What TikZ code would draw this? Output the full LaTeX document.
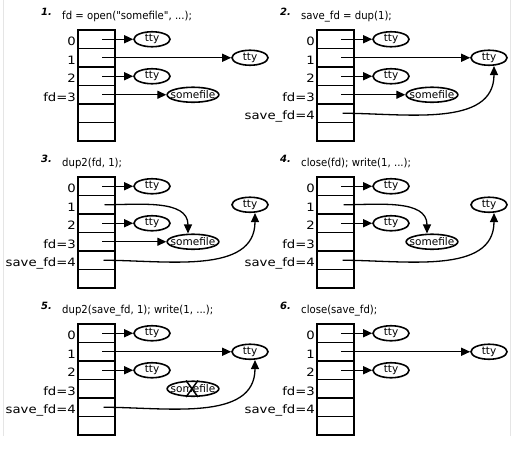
\documentclass[tikz,border=0pt]{standalone}
\usepackage{fontspec}
\setmainfont{DejaVu Sans}
\newfontfamily\lblfont[FakeStretch=1.15]{DejaVu Sans}
\newfontfamily\cmdfont[FakeStretch=0.92]{DejaVu Sans}
\usetikzlibrary{arrows.meta,shapes.geometric,positioning,calc}

% one descriptor table, 6 cells, named #1-0 ... #1-5
\newcommand{\fdtable}[3]{%
  \foreach \i in {0,...,5}
    \node[cell,anchor=north west] (#1-\i) at (#2,{#3+\i*18.5}) {};
  \node[lbl] (#1-l0) at ([shift={(-2pt,3pt)}]#1-0.south west) {0};
  \node[lbl] (#1-l1) at ([shift={(-2pt,3pt)}]#1-1.south west) {1};
  \node[lbl] (#1-l2) at ([shift={(-2pt,3pt)}]#1-2.south west) {2};
  \node[lbl] (#1-l3) at ([shift={(-2pt,3pt)}]#1-3.south west) {fd=3};
}

\begin{document}
\begin{tikzpicture}[x=1pt,y=-1pt,
  cell/.style={draw,line width=1.7pt,minimum width=37pt,minimum height=18.5pt,
               inner sep=0pt,outer sep=0pt},
  lbl/.style={anchor=base east,inner sep=0pt,font=\lblfont\fontsize{11.5}{13}\selectfont},
  num/.style={anchor=base east,inner sep=0pt,font=\bfseries\itshape\fontsize{10}{12}\selectfont},
  cmd/.style={anchor=base west,inner sep=0pt,font=\cmdfont\fontsize{11}{13}\selectfont},
  file/.style={draw,ellipse,line width=1.6pt,inner sep=0pt,minimum width=36pt,
               minimum height=15pt,font=\fontsize{10.5}{12}\selectfont},
  sfile/.style={file,inner xsep=-4pt,minimum width=51pt,minimum height=15pt},
  ptr/.style={-{Triangle[length=9pt,width=8pt]},line width=1.3pt}
]
\useasboundingbox (0,0) rectangle (516,463);
\draw[black!10] (3,0) -- (3,436);
\draw[black!10] (510,0) -- (510,436);

% 1
\node[num] (n1) at (52,15) {1.};
\node[cmd] (c1) at (62,19) {fd = open("somefile", ...);};
\fdtable{p1}{78}{30}
\node[file] (p1-t0) at (152,39.25) {tty};
\node[file] (p1-t2) at (152,76.25) {tty};
\node[file] (p1-tt) at (250,57.75) {tty};
\node[sfile] (p1-sf) at (193,94.75) {somefile};
\draw[ptr] ([xshift=5.5pt]p1-0.center) -- (p1-t0);
\draw[ptr] ([xshift=5.5pt]p1-1.center) -- (p1-tt);
\draw[ptr] ([xshift=5.5pt]p1-2.center) -- (p1-t2);
\draw[ptr] ([xshift=5.5pt]p1-3.center) -- (p1-sf);

% 2
\node[num] (n2) at (291,15) {2.};
\node[cmd] (c2) at (301,19) {save\_fd = dup(1);};
\fdtable{p2}{317}{30}
\node[lbl] (p2-l4) at ([shift={(-2pt,3pt)}]p2-4.south west) {save\_fd=4};
\node[file] (p2-t0) at (391,39.25) {tty};
\node[file] (p2-t2) at (391,76.25) {tty};
\node[file] (p2-tt) at (489,57.75) {tty};
\node[sfile] (p2-sf) at (432,94.75) {somefile};
\draw[ptr] ([xshift=5.5pt]p2-0.center) -- (p2-t0);
\draw[ptr] ([xshift=5.5pt]p2-1.center) -- (p2-tt);
\draw[ptr] ([xshift=5.5pt]p2-2.center) -- (p2-t2);
\draw[ptr] ([xshift=5.5pt]p2-3.center) -- (p2-sf);
\draw[ptr] ([xshift=7pt]p2-4.center) to[out=0,in=-90] ([xshift=5pt]p2-tt.south);

% 3
\node[num] (n3) at (52,162) {3.};
\node[cmd] (c3) at (62,166) {dup2(fd, 1);};
\fdtable{p3}{78}{177}
\node[lbl] (p3-l4) at ([shift={(-2pt,3pt)}]p3-4.south west) {save\_fd=4};
\node[file] (p3-t0) at (152,186.25) {tty};
\node[file] (p3-t2) at (152,223.25) {tty};
\node[file] (p3-tt) at (250,204.75) {tty};
\node[sfile] (p3-sf) at (193,241.75) {somefile};
\draw[ptr] ([xshift=5.5pt]p3-0.center) -- (p3-t0);
\draw[ptr] ([xshift=8pt]p3-1.center) to[out=0,in=90] ([xshift=-5pt]p3-sf.north);
\draw[ptr] ([xshift=5.5pt]p3-2.center) -- (p3-t2);
\draw[ptr] ([xshift=5.5pt]p3-3.center) -- (p3-sf);
\draw[ptr] ([xshift=7pt]p3-4.center) to[out=0,in=-90] ([xshift=5pt]p3-tt.south);

% 4
\node[num] (n4) at (291,162) {4.};
\node[cmd] (c4) at (301,166) {close(fd); write(1, ...);};
\fdtable{p4}{317}{177}
\node[lbl] (p4-l4) at ([shift={(-2pt,3pt)}]p4-4.south west) {save\_fd=4};
\node[file] (p4-t0) at (391,186.25) {tty};
\node[file] (p4-t2) at (391,223.25) {tty};
\node[file] (p4-tt) at (489,204.75) {tty};
\node[sfile] (p4-sf) at (432,241.75) {somefile};
\draw[ptr] ([xshift=5.5pt]p4-0.center) -- (p4-t0);
\draw[ptr] ([xshift=8pt]p4-1.center) to[out=0,in=90] ([xshift=-5pt]p4-sf.north);
\draw[ptr] ([xshift=5.5pt]p4-2.center) -- (p4-t2);
\draw[ptr] ([xshift=7pt]p4-4.center) to[out=0,in=-90] ([xshift=5pt]p4-tt.south);

% 5
\node[num] (n5) at (52,309) {5.};
\node[cmd] (c5) at (62,313) {dup2(save\_fd, 1); write(1, ...);};
\fdtable{p5}{78}{324}
\node[lbl] (p5-l4) at ([shift={(-2pt,3pt)}]p5-4.south west) {save\_fd=4};
\node[file] (p5-t0) at (152,333.25) {tty};
\node[file] (p5-t2) at (152,370.25) {tty};
\node[file] (p5-tt) at (250,351.75) {tty};
\node[sfile] (p5-sf) at (193,388.75) {somefile};
\draw[ptr] ([xshift=5.5pt]p5-0.center) -- (p5-t0);
\draw[ptr] ([xshift=5.5pt]p5-1.center) -- (p5-tt);
\draw[ptr] ([xshift=5.5pt]p5-2.center) -- (p5-t2);
\draw[ptr] ([xshift=7pt]p5-4.center) to[out=0,in=-90] ([xshift=5pt]p5-tt.south);
\draw[line width=1.5pt] ([xshift=-7pt]p5-sf.north) -- ([xshift=5pt]p5-sf.south);
\draw[line width=1.5pt] ([xshift=5pt]p5-sf.north) -- ([xshift=-7pt]p5-sf.south);

% 6
\node[num] (n6) at (291,309) {6.};
\node[cmd] (c6) at (301,313) {close(save\_fd);};
\fdtable{p6}{317}{324}
\node[lbl] (p6-l4) at ([shift={(-2pt,3pt)}]p6-4.south west) {save\_fd=4};
\node[file] (p6-t0) at (391,333.25) {tty};
\node[file] (p6-t2) at (391,370.25) {tty};
\node[file] (p6-tt) at (489,351.75) {tty};
\draw[ptr] ([xshift=5.5pt]p6-0.center) -- (p6-t0);
\draw[ptr] ([xshift=5.5pt]p6-1.center) -- (p6-tt);
\draw[ptr] ([xshift=5.5pt]p6-2.center) -- (p6-t2);
\end{tikzpicture}
\end{document}
